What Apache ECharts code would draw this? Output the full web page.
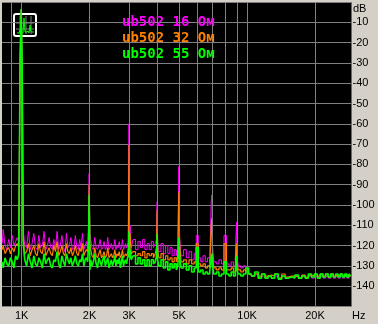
<!DOCTYPE html>
<html><head><meta charset="utf-8">
<script src="https://cdn.jsdelivr.net/npm/echarts@6/dist/echarts.min.js"></script>
<style>html,body{margin:0;padding:0;background:#d4d0c8;}#c{width:378px;height:324px;}</style>
</head><body><div id="c"></div><script>
// ---- data ----
const legendNames = ['ub502 16 Ом', 'ub502 32 Ом', 'ub502 55 Ом'];
const xTickValues = [1000, 2000, 3000, 5000, 10000, 20000];
const xGridHz = [900, 1000, 2000, 3000, 4000, 5000, 6000, 7000, 8000, 9000, 10000, 20000];
const freqHz = [
  820, 836, 852, 868, 884, 900, 916, 932, 948, 964, 978,
  990, 1000, 1010,
  1022, 1042, 1062, 1082, 1102, 1122, 1142, 1162, 1182, 1202, 1224, 1246, 1268, 1290, 1312, 1334, 1356, 1378, 1400, 1424, 1448,
  1472, 1496, 1520, 1544, 1568, 1592, 1616, 1640, 1666, 1692, 1718, 1744, 1770, 1796, 1822, 1848, 1874, 1900, 1926, 1952, 1972,
  1985, 2000, 2015,
  2035, 2065, 2095, 2125, 2155, 2185, 2215, 2245, 2275, 2305, 2335, 2365, 2395, 2425, 2455, 2485,
  2515, 2545, 2575, 2605, 2635, 2665, 2695, 2725, 2755, 2785, 2815, 2845, 2875, 2905, 2935, 2960,
  2985, 3000, 3015, 3040,
  3080, 3160, 3240, 3320, 3400, 3480, 3560, 3640, 3720, 3800, 3880, 3950,
  3980, 4000, 4020,
  4100, 4200, 4300, 4400, 4500, 4600, 4700, 4800, 4900, 4960,
  5000, 5040,
  5150, 5300, 5450, 5600, 5750, 5900,
  6000,
  6150, 6300, 6450, 6600, 6750, 6900,
  6960, 7000, 7040,
  7200, 7400, 7600, 7800,
  8000,
  8200, 8400, 8600, 8800,
  8960, 9000, 9040,
  9250, 9500, 9750, 10000,
  10300, 10600, 11000, 11400, 11800, 12200, 12600, 13000, 13500, 14000, 14500, 15000, 15500, 16000, 16600, 17200, 17800, 18400,
  19000, 19600, 20200, 20800, 21400, 22000, 22600, 23200, 23800, 24400, 25000, 25600, 26200, 26800, 27400, 28000, 28600, 29000
];
const ub16 = [
  -119, -112, -120, -122, -117, -121, -115, -120, -118, -116, -119,
  -30, -4, -32,
  -112, -120, -121, -113, -122, -119, -114, -121, -122, -115, -121, -120, -113, -122, -120, -116, -121, -122, -117, -121, -113,
  -122, -120, -115, -121, -123, -114, -121, -120, -116, -122, -121, -115, -121, -122, -117, -121, -114, -122, -120, -118, -121,
  -112, -84.5, -114,
  -117, -121, -122, -116, -121, -122, -120, -117, -122, -121, -118, -122, -121, -116, -122, -121,
  -119, -122, -121, -117, -122, -120, -121, -118, -122, -121, -117, -122, -121, -119, -121, -120,
  -118, -60, -116, -110,
  -121, -117, -122, -118, -121, -117, -122, -119, -122, -118, -121, -119,
  -117, -98.5, -118,
  -123, -119, -124, -120, -124, -121, -125, -122, -125, -121,
  -81, -116,
  -125, -122, -126, -123, -127, -124,
  -115,
  -126, -128, -125, -128, -126, -128,
  -99, -95, -120,
  -128, -129, -127, -129,
  -115,
  -129, -130, -128, -130,
  -122, -108.5, -126,
  -130, -131, -130, -132,
  -134, -135, -134, -136, -135, -136, -135, -136, -135, -136, -135, -136, -135.5, -136, -135, -136, -135, -136,
  -135, -136, -135, -136, -135, -136, -135, -136, -135, -136, -135, -136, -135, -136, -135, -136, -135, -135
];
const ub32 = [
  -122, -120, -124, -122, -121, -124, -121, -123, -120, -119, -121,
  -30, -4, -32,
  -117, -124, -123, -119, -125, -122, -120, -124, -125, -119, -123, -124, -118, -125, -123, -121, -124, -125, -120, -123, -118,
  -125, -123, -120, -124, -125, -119, -123, -124, -121, -125, -123, -120, -124, -125, -121, -123, -119, -125, -123, -122, -123,
  -118, -90, -120,
  -122, -125, -126, -121, -125, -126, -124, -122, -126, -125, -123, -126, -125, -121, -126, -125,
  -124, -126, -125, -122, -126, -124, -125, -123, -126, -125, -122, -126, -125, -124, -125, -124,
  -122, -70.5, -120, -114,
  -124, -123, -125, -124, -125, -123, -126, -124, -125, -124, -126, -124,
  -121, -102.5, -122,
  -126, -124, -127, -125, -127, -126, -128, -126, -128, -125,
  -93.5, -120,
  -128, -127, -129, -127, -129, -128,
  -119,
  -129, -130, -129, -131, -130, -131,
  -110, -106.5, -124,
  -131, -132, -131, -132,
  -119,
  -132, -132, -131, -133,
  -126, -119, -129,
  -132, -133, -132, -133,
  -134, -135, -134, -135, -134, -135, -134.5, -135, -134, -136, -134, -135.5, -135, -135, -135, -136, -134.5, -135.5,
  -134.5, -135, -134, -135, -134, -135, -134, -135.5, -134, -135, -134.5, -135, -134, -135, -134.5, -135, -134, -135
];
const ub55 = [
  -128, -131, -126, -129, -130, -126, -128, -131, -125, -127, -124,
  -28, -3.5, -30,
  -119, -127, -130, -124, -128, -131, -125, -129, -130, -126, -128, -131, -124, -129, -127, -126, -130, -131, -127, -128, -123,
  -129, -131, -125, -128, -130, -124, -127, -129, -126, -130, -128, -125, -129, -130, -127, -128, -124, -130, -127, -126, -128,
  -120, -95, -132,
  -127, -130, -128, -124, -129, -131, -126, -128, -130, -127, -125, -130, -128, -126, -131, -129,
  -127, -130, -128, -125, -130, -127, -129, -126, -131, -128, -125, -130, -128, -127, -129, -126,
  -125, -113, -126, -122,
  -127, -125, -129, -126, -129, -127, -130, -127, -130, -127, -129, -128,
  -125, -114, -127,
  -130, -127, -131, -128, -132, -129, -131, -129, -132, -130,
  -116, -126,
  -131, -129, -132, -130, -133, -131,
  -121,
  -133, -132, -134, -133, -134, -133,
  -126, -124, -130,
  -134, -133, -135, -134,
  -128,
  -134, -135, -133, -135,
  -131, -125, -132,
  -134, -135, -134, -131,
  -134, -135, -133, -136, -134, -136, -135, -136, -134, -136.5, -135, -136, -135.5, -136, -134.5, -136, -135, -136,
  -134, -135.5, -134, -136, -134, -135.5, -134, -135.5, -134, -135.5, -134, -135.5, -134, -135.5, -134, -135.5, -134, -135
];
const seriesValues = [ub16, ub32, ub55];
const colors = ['#ff00ff', '#ff8000', '#00ff00'];
const widths = [1, 1.2, 1.6];

const chart = echarts.init(document.getElementById('c'), null, {renderer: 'canvas'});
const traces = seriesValues.map((vals, i) => ({
  type: 'line', name: legendNames[i], step: 'middle', symbol: 'none', z: 3 + i,
  lineStyle: {color: colors[i], width: widths[i]},
  data: freqHz.map((f, k) => [f, vals[k]])
}));
const gridSeries = {
  type: 'line', data: [], z: 1, silent: true,
  markLine: {
    silent: true, symbol: ['none', 'none'], label: {show: false}, animation: false,
    lineStyle: {color: '#808080', width: 1, type: 'solid'},
    data: xGridHz.map(v => ({xAxis: v}))
  }
};
const lblFont = 'Liberation Sans';
chart.setOption({
  animation: false,
  backgroundColor: '#d4d0c8',
  grid: {left: 2, top: 2, width: 349.5, height: 304.5, show: true, backgroundColor: '#000', borderWidth: 0},
  xAxis: {
    type: 'log', logBase: 10, min: 818, max: 29050,
    axisLine: {show: false}, axisTick: {show: false}, splitLine: {show: false},
    axisLabel: {customValues: xTickValues, formatter: v => Math.round(v / 1000) + 'K',
      color: '#000', fontSize: 11, fontFamily: lblFont, margin: 4}
  },
  yAxis: {
    type: 'value', position: 'right', min: -150, max: 0, interval: 10,
    axisLine: {show: false}, axisTick: {show: false},
    splitLine: {lineStyle: {color: '#808080', width: 1}},
    axisLabel: {formatter: v => (v === 0 || v === -150) ? '' : String(v),
      color: '#000', fontSize: 11, fontFamily: lblFont, margin: 1}
  },
  graphic: [
    {type: 'text', left: 353, top: 3, style: {text: 'dB', fill: '#000', font: '11px "Liberation Sans"'}},
    {type: 'text', left: 352, top: 310, style: {text: 'Hz', fill: '#000', font: '11px "Liberation Sans"'}},
    {type: 'text', left: 122, top: 15, z: 10, style: {text: legendNames[0], fill: colors[0], font: 'bold 14px "DejaVu Sans Mono"'}},
    {type: 'text', left: 122, top: 31, z: 10, style: {text: legendNames[1], fill: colors[1], font: 'bold 14px "DejaVu Sans Mono"'}},
    {type: 'text', left: 122, top: 47, z: 10, style: {text: legendNames[2], fill: colors[2], font: 'bold 14px "DejaVu Sans Mono"'}},
    {type: 'group', left: 13, top: 13, z: 20, children: [
      {type: 'rect', shape: {x: 0, y: 0, width: 22, height: 22, r: 2}, style: {fill: '#000', stroke: '#fff', lineWidth: 2}},
      {type: 'line', shape: {x1: 6, y1: 2, x2: 6, y2: 20}, style: {stroke: '#808080', lineWidth: 1}},
      {type: 'line', shape: {x1: 12, y1: 2, x2: 12, y2: 20}, style: {stroke: '#808080', lineWidth: 1}},
      {type: 'line', shape: {x1: 17, y1: 2, x2: 17, y2: 20}, style: {stroke: '#808080', lineWidth: 1}},
      {type: 'line', shape: {x1: 2, y1: 9, x2: 20, y2: 9}, style: {stroke: '#808080', lineWidth: 1}},
      {type: 'line', shape: {x1: 2, y1: 15, x2: 20, y2: 15}, style: {stroke: '#808080', lineWidth: 1}},
      {type: 'polyline', shape: {points: [[3,19],[5,19],[6,16],[7,19],[9,19],[10,4],[11,18],[13,18],[14,17],[15,19],[16,11],[17,18],[20,18]]}, style: {stroke: '#00ff00', lineWidth: 1, fill: null}}
    ]}
  ],
  series: [gridSeries].concat(traces)
});
</script></body></html>
